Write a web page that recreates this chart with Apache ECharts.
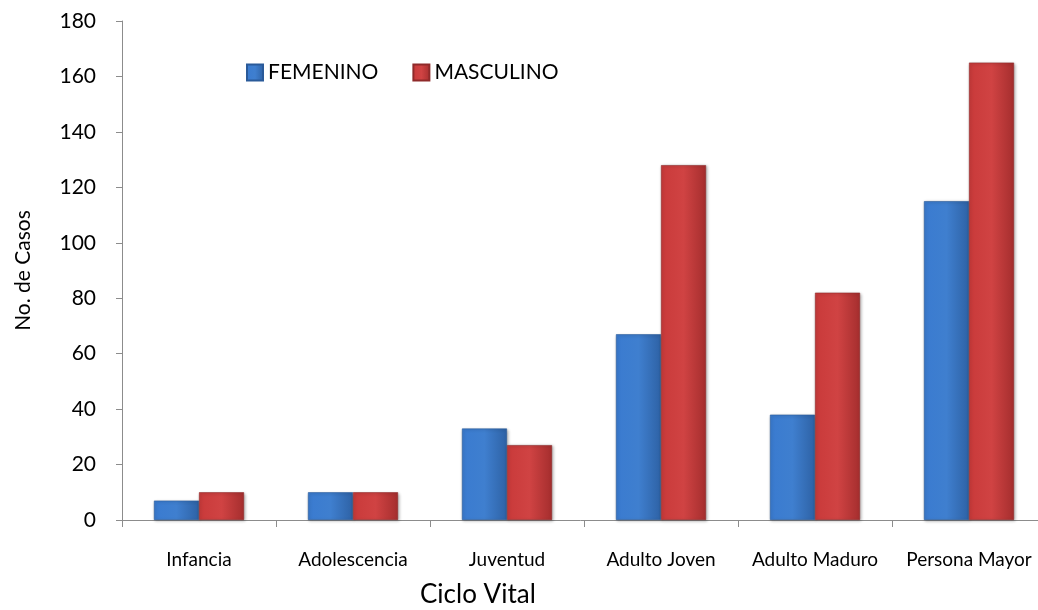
<!DOCTYPE html>
<html>
<head>
<meta charset="utf-8">
<script src="https://cdn.jsdelivr.net/npm/echarts@6/dist/echarts.min.js"></script>
<style>
  html, body { margin: 0; padding: 0; background: #ffffff; }
  #chart { width: 1038px; height: 610px; }
</style>
</head>
<body>
<div id="chart"></div>
<script>
var categorias = ['Infancia', 'Adolescencia', 'Juventud', 'Adulto Joven', 'Adulto Maduro', 'Persona Mayor'];
var femenino = [7, 10, 33, 67, 38, 115];
var masculino = [10, 10, 27, 128, 82, 165];

var fuente = 'Lato, "Open Sans", sans-serif';

// degradados para imitar el bisel de las barras
var azul = new echarts.graphic.LinearGradient(0, 0, 1, 0, [
  { offset: 0, color: '#3a7bd0' },
  { offset: 0.5, color: '#3f7fcf' },
  { offset: 1, color: '#2e62a5' }
]);
var rojo = new echarts.graphic.LinearGradient(0, 0, 1, 0, [
  { offset: 0, color: '#c93a3a' },
  { offset: 0.5, color: '#d04343' },
  { offset: 1, color: '#a52e2e' }
]);

var chart = echarts.init(document.getElementById('chart'));

var option = {
  backgroundColor: '#ffffff',
  animation: false,
  textStyle: { fontFamily: fuente },
  title: {
    text: 'Ciclo Vital',
    left: 420,
    top: 582,
    padding: 0,
    textStyle: { fontSize: 26, fontWeight: 'normal', color: '#000', fontFamily: fuente }
  },
  legend: {
    left: 241,
    top: 57,
    itemWidth: 16,
    itemHeight: 16,
    itemGap: 34,
    icon: 'rect',
    textStyle: { fontSize: 21, color: '#000', fontFamily: fuente },
    data: ['FEMENINO', 'MASCULINO']
  },
  grid: {
    left: 122,
    width: 924,
    top: 21,
    bottom: 90,
    outerBoundsMode: 'none'
  },
  xAxis: {
    type: 'category',
    data: categorias,
    axisLine: { lineStyle: { color: '#8c8c8c', width: 1 } },
    axisTick: { show: true, interval: 0, length: 7, lineStyle: { color: '#8c8c8c' } },
    axisLabel: { interval: 0, fontSize: 19, color: '#000', margin: 30, fontFamily: fuente }
  },
  yAxis: {
    type: 'value',
    min: 0,
    max: 180,
    interval: 20,
    name: 'No. de Casos',
    nameLocation: 'middle',
    nameGap: 88,
    nameTextStyle: { fontSize: 21, color: '#000', fontFamily: fuente },
    axisLine: { show: true, lineStyle: { color: '#8c8c8c', width: 1 } },
    axisTick: { show: true, length: 6, lineStyle: { color: '#8c8c8c' } },
    splitLine: { show: false },
    axisLabel: { fontSize: 21, color: '#000', margin: 26, fontFamily: fuente }
  },
  series: [
    {
      name: 'FEMENINO',
      type: 'bar',
      data: femenino,
      barGap: '0%',
      barCategoryGap: '41.5%',
      itemStyle: {
        color: azul,
        borderColor: '#2a5a99',
        borderWidth: 0.6,
        shadowColor: 'rgba(0,0,0,0.3)',
        shadowBlur: 3,
        shadowOffsetX: 1,
        shadowOffsetY: 1
      }
    },
    {
      name: 'MASCULINO',
      type: 'bar',
      data: masculino,
      itemStyle: {
        color: rojo,
        borderColor: '#8f2a2a',
        borderWidth: 0.6,
        shadowColor: 'rgba(0,0,0,0.3)',
        shadowBlur: 3,
        shadowOffsetX: 1,
        shadowOffsetY: 1
      }
    }
  ]
};

chart.setOption(option);
</script>
</body>
</html>
